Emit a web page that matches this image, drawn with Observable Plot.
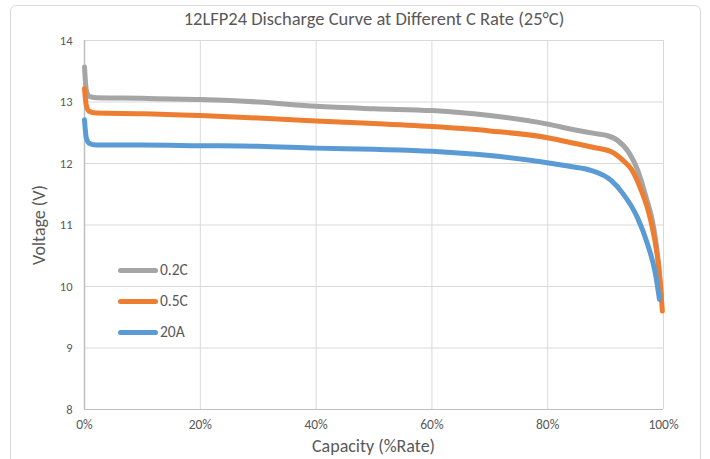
<!DOCTYPE html>
<html><head><meta charset="utf-8">
<script src="https://cdn.jsdelivr.net/npm/d3@7"></script>
<script src="https://cdn.jsdelivr.net/npm/@observablehq/plot@0.6"></script>
<style>
body{margin:0;background:#fff;font-family:Calibri,Carlito,Lato,sans-serif;}
#wrap{position:relative;width:710px;height:459px;overflow:hidden;}
#frame{position:absolute;left:10px;top:5px;width:691px;height:480px;border:1px solid #d9d9d9;border-radius:6px;box-sizing:border-box;}
#title{position:absolute;left:0;top:10px;width:748px;text-align:center;font-size:18.5px;line-height:1;color:#595959;}
#chart{position:absolute;left:0;top:30px;}
#xt{position:absolute;left:0;top:437px;width:747px;text-align:center;font-size:18px;line-height:1;color:#595959;}
#yt{position:absolute;left:39px;top:225px;font-size:18px;line-height:1;color:#595959;transform:translate(-50%,-50%) rotate(-90deg);white-space:nowrap;}
.leg{position:absolute;left:118px;width:40px;height:5px;border-radius:3px;}
.legt{position:absolute;left:160px;font-size:15.5px;line-height:1;color:#595959;}
</style></head><body>
<div id="wrap">
<div id="frame"></div>
<div id="title">12LFP24 Discharge Curve at Different C Rate (25°C)</div>
<div id="chart"></div>
<div id="xt">Capacity (%Rate)</div>
<div id="yt">Voltage (V)</div>
<div id="legend"></div>
</div>
<script>
const seriesNames = ["0.2C", "0.5C", "20A"];
const seriesColors = ["#a5a5a5", "#ed7d31", "#5b9bd5"];
const cap02 = [0, 0.3, 0.8, 2, 10, 20, 30, 40, 50, 60, 70, 80, 85, 88, 90, 92, 94, 95.5, 97, 98.3, 99.2, 99.6];
const volt02 = [13.57, 13.2, 13.09, 13.07, 13.06, 13.04, 13.0, 12.93, 12.89, 12.86, 12.78, 12.64, 12.54, 12.49, 12.46, 12.38, 12.18, 11.9, 11.45, 10.96, 10.3, 9.85];
const cap05 = [0, 0.3, 0.8, 2, 10, 20, 30, 40, 50, 60, 70, 80, 85, 88, 91, 93, 94.5, 96, 97.8, 99, 99.5, 99.8];
const volt05 = [13.22, 12.95, 12.85, 12.82, 12.81, 12.78, 12.74, 12.69, 12.65, 12.6, 12.53, 12.42, 12.32, 12.26, 12.19, 12.05, 11.9, 11.6, 11.07, 10.45, 10.0, 9.6];
const cap20A = [0, 0.3, 0.8, 2, 10, 20, 30, 40, 50, 60, 70, 78.8, 84, 87.4, 91, 93, 95.5, 97.2, 98.6, 99.3];
const volt20A = [12.71, 12.42, 12.33, 12.3, 12.3, 12.29, 12.28, 12.25, 12.23, 12.2, 12.13, 12.03, 11.95, 11.89, 11.72, 11.51, 11.12, 10.7, 10.21, 9.79];
const xTicks = [0, 20, 40, 60, 80, 100];
const yTicks = [8, 9, 10, 11, 12, 13, 14];

const caps = [cap02, cap05, cap20A], volts = [volt02, volt05, volt20A];
const data = [];
seriesNames.forEach((s, i) => caps[i].forEach((c, j) => data.push({series: s, cap: c, v: volts[i][j]})));

const plot = Plot.plot({
  width: 710, height: 429,
  marginTop: 10, marginBottom: 50, marginLeft: 84, marginRight: 47,
  style: {fontFamily: "Calibri,Carlito,Lato,sans-serif", fontSize: "12px", color: "#595959", background: "transparent"},
  x: {domain: [0, 100], label: null},
  y: {domain: [8, 14], label: null},
  color: {domain: seriesNames, range: seriesColors},
  marks: [
    Plot.gridX(xTicks, {stroke: "#d9d9d9", strokeOpacity: 1, strokeWidth: 1}),
    Plot.gridY(yTicks, {stroke: "#d9d9d9", strokeOpacity: 1, strokeWidth: 1}),
    Plot.axisX({ticks: xTicks, tickFormat: d => d + "%", tickSize: 0, tickPadding: 10, fontSize: 13.5, label: null}),
    Plot.axisY({ticks: yTicks, tickFormat: d => String(d), tickSize: 0, tickPadding: 12, fontSize: 12.5, label: null}),
    Plot.ruleX([0], {stroke: "#bfbfbf", strokeWidth: 1.5}),
    Plot.ruleY([8], {stroke: "#bfbfbf", strokeWidth: 1}),
    Plot.line(data, {x: "cap", y: "v", z: "series", stroke: "series", strokeWidth: 5, curve: "monotone-x", strokeLinecap: "round", strokeLinejoin: "round"})
  ]
});
document.getElementById("chart").appendChild(plot);

const leg = document.getElementById("legend");
const legY = [270, 301, 332];
seriesNames.forEach((s, i) => {
  const l = document.createElement("div"); l.className = "leg"; l.style.top = (legY[i] - 2.5) + "px"; l.style.background = seriesColors[i]; leg.appendChild(l);
  const t = document.createElement("div"); t.className = "legt"; t.style.top = (legY[i] - 8) + "px"; t.textContent = s; leg.appendChild(t);
});
</script>
</body></html>
